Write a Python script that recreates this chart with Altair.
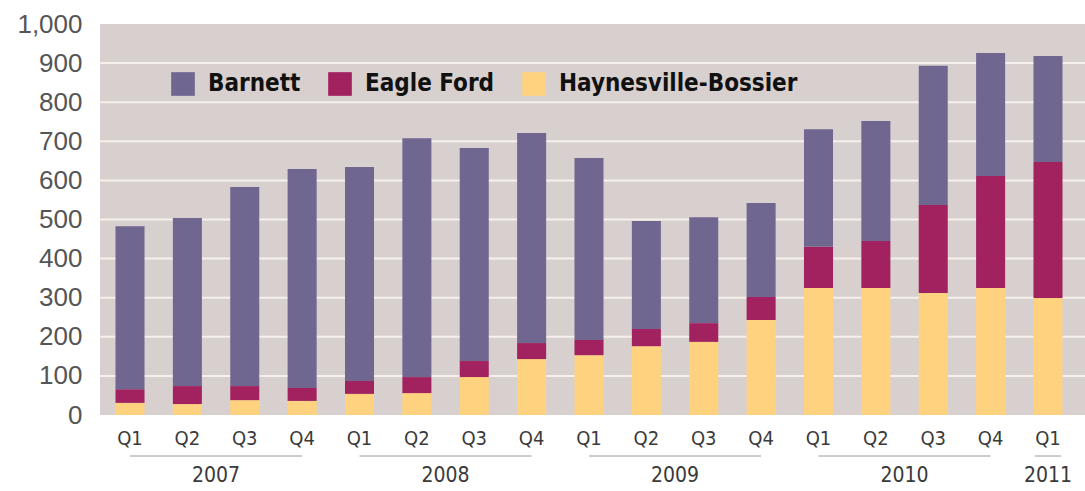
import altair as alt
import pandas as pd

# ---- data ----
years = ["2007"] * 4 + ["2008"] * 4 + ["2009"] * 4 + ["2010"] * 4 + ["2011"]
quarters = ["Q1", "Q2", "Q3", "Q4"] * 4 + ["Q1"]
series = ["Barnett", "Eagle Ford", "Haynesville-Bossier"]
barnett = [417, 430, 509, 560, 547, 611, 545, 537, 465, 276, 271, 240, 301, 307, 356, 315, 271]
eagle_ford = [35, 46, 36, 33, 33, 41, 41, 41, 39, 44, 48, 59, 105, 120, 225, 286, 348]
haynesville = [31, 28, 38, 36, 54, 56, 97, 143, 153, 176, 187, 243, 325, 325, 312, 325, 299]
y_ticks = [0, 100, 200, 300, 400, 500, 600, 700, 800, 900, 1000]
colors = ["#706791", "#a2225f", "#fed27f"]

# ---- tables ----
rows = []
for i in range(len(years)):
    for order, (name, vals) in enumerate(
        [("Haynesville-Bossier", haynesville), ("Eagle Ford", eagle_ford), ("Barnett", barnett)]
    ):
        rows.append({"idx": i, "year": years[i], "quarter": quarters[i],
                     "series": name, "order": order, "value": vals[i]})
df = pd.DataFrame(rows)
cats = pd.DataFrame({"idx": list(range(len(years))), "year": years, "quarter": quarters})
grid = pd.DataFrame({"v": y_ticks[1:-1]})

W, H = 985, 391
FONT_N = "Liberation Sans Narrow, Arial Narrow, DejaVu Sans Condensed, sans-serif"
xscale = alt.Scale(domain=[-0.523, 16.645], nice=False, zero=False)
yscale = alt.Scale(domain=[0, 1000], nice=False)
yaxis = alt.Axis(values=y_ticks, format=",d", grid=False, domain=False, ticks=False,
                 labelFontSize=26, labelColor="#555555", labelFont="Liberation Sans",
                 labelPadding=18, title=None)

grid_layer = alt.Chart(grid).mark_rule(color="#f6f0ec", strokeWidth=2).encode(
    y=alt.Y("v:Q", scale=yscale, axis=yaxis)
)

bars = alt.Chart(df).transform_stack(
    stack="value", groupby=["idx"], as_=["y0", "y1"], sort=[alt.SortField("order")]
).transform_calculate(
    x0="datum.idx - 0.253", x1="datum.idx + 0.253"
).mark_bar().encode(
    x=alt.X("x0:Q", scale=xscale, axis=None),
    x2="x1:Q",
    y=alt.Y("y0:Q", scale=yscale, axis=yaxis),
    y2="y1:Q",
    color=alt.Color("series:N", scale=alt.Scale(domain=series, range=colors),
                    legend=alt.Legend(orient="none", legendX=71, legendY=48, direction="horizontal",
                                      title=None, symbolType="square", symbolSize=560,
                                      symbolStrokeWidth=0, symbolOpacity=1,
                                      labelFont=FONT_N, labelFontWeight="bold",
                                      labelFontSize=24, labelColor="#111111", labelLimit=500,
                                      labelOffset=13, columnPadding=27, padding=0)),
)

q_text = alt.Chart(cats).mark_text(font=FONT_N, fontSize=20, color="#3a3a3a", baseline="middle").encode(
    x=alt.X("idx:Q", scale=xscale, axis=None),
    y=alt.value(H + 24),
    text="quarter:N",
)

year_base = alt.Chart(cats).transform_aggregate(
    mn="min(idx)", mx="max(idx)", groupby=["year"]
).transform_calculate(
    lo="datum.mn == datum.mx ? datum.mn - 0.23 : datum.mn",
    hi="datum.mn == datum.mx ? datum.mx + 0.23 : datum.mx",
    mid="(datum.mn + datum.mx) / 2",
)
year_lines = year_base.mark_rule(color="#9a9a9a", strokeWidth=1).encode(
    x=alt.X("lo:Q", scale=xscale, axis=None), x2="hi:Q", y=alt.value(H + 41)
)
year_text = year_base.mark_text(font=FONT_N, fontSize=21, color="#3a3a3a", baseline="middle").encode(
    x=alt.X("mid:Q", scale=xscale, axis=None), y=alt.value(H + 61), text="year:N"
)

chart = alt.layer(grid_layer, bars, q_text, year_lines, year_text).properties(
    width=W, height=H,
    autosize=alt.AutoSizeParams(type="none"),
    padding={"left": 100, "top": 24, "right": 0, "bottom": 76},
).configure(
    background="white",
    view=alt.ViewConfig(stroke=None, fill="#d8d0ce"),
)

chart.save("out.html", embed_options={"renderer": "svg", "actions": False})
